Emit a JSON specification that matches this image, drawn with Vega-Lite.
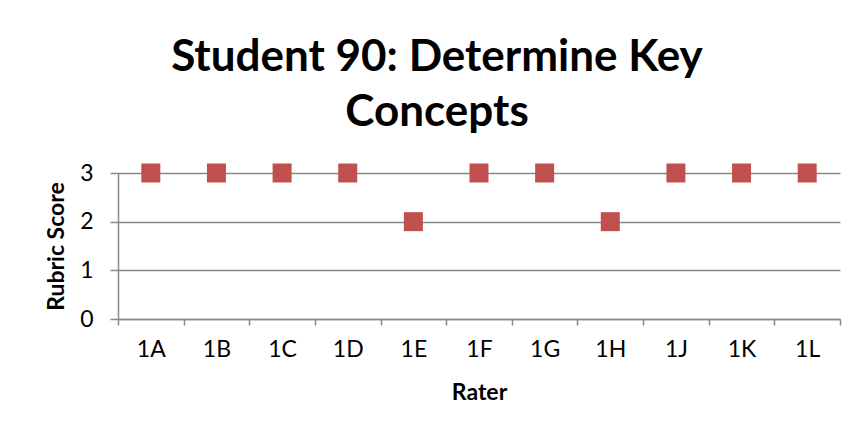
{
  "$schema": "https://vega.github.io/schema/vega-lite/v6.json",
  "autosize": "none",
  "width": 722,
  "height": 146,
  "padding": {"left": 118, "top": 173, "right": 22, "bottom": 122},
  "background": "white",
  "title": {
    "text": ["Student 90: Determine Key", "Concepts"],
    "font": "Lato",
    "fontSize": 44,
    "fontWeight": "bold",
    "color": "#000000",
    "anchor": "middle",
    "frame": "group",
    "dx": -42,
    "offset": 27,
    "lineHeight": 55
  },
  "data": {
    "values": [
      {"rater": "1A", "score": 3},
      {"rater": "1B", "score": 3},
      {"rater": "1C", "score": 3},
      {"rater": "1D", "score": 3},
      {"rater": "1E", "score": 2},
      {"rater": "1F", "score": 3},
      {"rater": "1G", "score": 3},
      {"rater": "1H", "score": 2},
      {"rater": "1J", "score": 3},
      {"rater": "1K", "score": 3},
      {"rater": "1L", "score": 3}
    ]
  },
  "mark": {"type": "square", "filled": true, "size": 361, "color": "#C0504D", "opacity": 1},
  "encoding": {
    "x": {
      "field": "rater",
      "type": "nominal",
      "sort": null,
      "scale": {"type": "band", "paddingInner": 0, "paddingOuter": 0},
      "axis": {
        "title": "Rater",
        "labelAngle": 0,
        "tickBand": "extent",
        "grid": false,
        "domainColor": "#898989",
        "domainWidth": 1.5,
        "tickColor": "#898989",
        "tickWidth": 1.5,
        "tickSize": 6,
        "labelFont": "Lato",
        "labelFontSize": 23,
        "labelColor": "#000000",
        "labelPadding": 13,
        "titleFont": "Lato",
        "titleFontSize": 23,
        "titleFontWeight": "bold",
        "titleColor": "#000000",
        "titlePadding": 20
      }
    },
    "y": {
      "field": "score",
      "type": "quantitative",
      "scale": {"domain": [0, 3], "nice": false, "zero": true},
      "axis": {
        "title": "Rubric Score",
        "values": [0, 1, 2, 3],
        "grid": true,
        "gridColor": "#898989",
        "gridWidth": 1.5,
        "domainColor": "#898989",
        "domainWidth": 1.5,
        "tickColor": "#898989",
        "tickWidth": 1.5,
        "tickSize": 8,
        "labelFont": "Lato",
        "labelFontSize": 23,
        "labelColor": "#000000",
        "labelPadding": 17,
        "titleFont": "Lato",
        "titleFontSize": 23,
        "titleFontWeight": "bold",
        "titleColor": "#000000",
        "titlePadding": 11
      }
    }
  },
  "config": {"view": {"stroke": null}}
}
